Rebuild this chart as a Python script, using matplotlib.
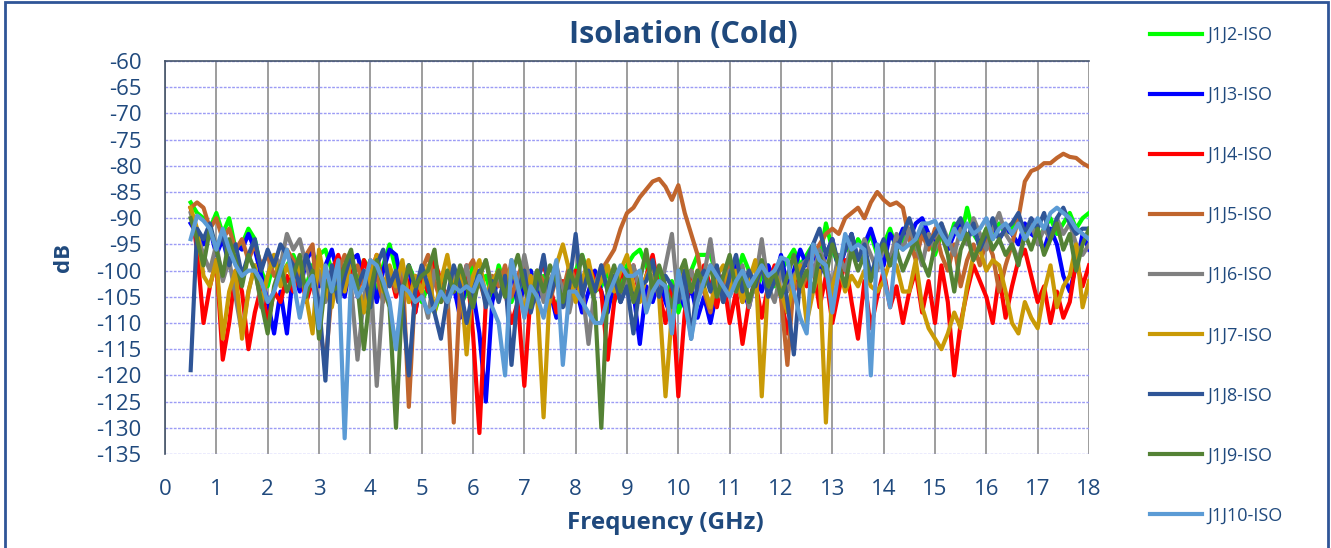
import numpy as np
import matplotlib
matplotlib.use("Agg")
import matplotlib.pyplot as plt
from matplotlib.patches import Rectangle

plt.rcParams['font.family'] = ['Open Sans', 'DejaVu Sans']
plt.rcParams['axes.unicode_minus'] = False

# frequency points (GHz), 0.125 GHz step from 0.5 to 18
freq = np.arange(141) * 0.125 + 0.5

# isolation readings in dB, one list per port pair (rows of 2 GHz)
j1j2 = [-87, -89, -90, -92, -89, -93, -90, -96, -95, -92, -94, -100, -103, -98, -101, -99,
        -97, -100, -103, -99, -97, -96, -100, -98, -101, -99, -102, -98, -100, -104, -99, -95,
        -100, -104, -99, -102, -106, -103, -108, -104, -100, -103, -107, -104, -99, -103, -101, -105,
        -99, -103, -106, -102, -104, -100, -105, -101, -104, -107, -103, -101, -100, -97, -101, -104,
        -103, -100, -106, -102, -99, -97, -96, -99, -103, -100, -105, -102, -108, -104, -100, -97,
        -97, -97, -101, -104, -99, -102, -97, -100, -104, -101, -99, -103, -100, -98, -96, -99,
        -97, -95, -98, -91, -96, -99, -95, -97, -94, -96, -93, -97, -95, -92, -96, -94,
        -93, -96, -92, -94, -97, -93, -95, -91, -94, -88, -93, -95, -92, -94, -91, -93,
        -92, -90, -93, -91, -94, -92, -90, -93, -91, -89, -92, -90, -89]

j1j3 = [-91, -93, -95, -92, -97, -94, -99, -95, -96, -93, -96, -101, -106, -112, -104, -112,
        -100, -104, -98, -96, -103, -99, -96, -101, -105, -98, -97, -102, -99, -106, -100, -96,
        -97, -103, -99, -108, -101, -104, -99, -102, -106, -103, -109, -101, -104, -112, -125, -106,
        -101, -104, -99, -107, -103, -100, -106, -102, -104, -109, -105, -101, -103, -108, -104, -100,
        -104, -108, -102, -106, -100, -104, -114, -103, -106, -102, -106, -109, -104, -107, -103, -109,
        -105, -110, -104, -101, -104, -99, -103, -107, -101, -104, -99, -102, -97, -103, -100, -96,
        -99, -95, -101, -97, -94, -100, -96, -93, -98, -95, -92, -96, -99, -93, -95, -92,
        -94, -91, -90, -93, -95, -92, -96, -93, -91, -94, -92, -95, -93, -91, -94, -92,
        -93, -95, -91, -93, -94, -96, -92, -95, -101, -104, -99, -93, -96]

j1j4 = [-88, -96, -110, -103, -98, -117, -110, -100, -104, -115, -108, -103, -110, -104, -106, -101,
        -104, -99, -106, -102, -109, -103, -100, -97, -102, -99, -105, -98, -101, -97, -103, -100,
        -105, -99, -103, -108, -101, -104, -98, -102, -106, -100, -104, -99, -112, -131, -106, -103,
        -100, -104, -110, -106, -122, -104, -101, -99, -103, -108, -102, -105, -100, -104, -99, -102,
        -104, -117, -106, -100, -103, -99, -105, -101, -97, -104, -110, -103, -124, -108, -100, -104,
        -99, -103, -107, -101, -110, -104, -114, -106, -102, -109, -103, -99, -105, -112, -104, -100,
        -103, -99, -107, -101, -110, -104, -98, -106, -113, -102, -111, -105, -100, -107, -103, -110,
        -104, -100, -108, -102, -110, -99, -106, -120, -110, -104, -99, -102, -105, -110, -101, -109,
        -103, -98, -96, -101, -106, -103, -110, -104, -109, -106, -98, -103, -99]

j1j5 = [-88, -87, -88, -92, -90, -94, -92, -96, -94, -98, -95, -99, -97, -101, -99, -96,
        -98, -101, -97, -95, -110, -118, -104, -100, -97, -102, -99, -103, -98, -101, -106, -100,
        -104, -99, -126, -103, -100, -97, -102, -106, -104, -129, -103, -100, -98, -102, -106, -101,
        -103, -99, -105, -101, -98, -104, -100, -102, -106, -101, -104, -99, -102, -105, -100, -103,
        -100, -98, -96, -92, -89, -88, -86, -84.5, -83, -82.5, -84, -86.5, -83.7, -89, -93, -97,
        -104, -108, -100, -103, -98, -102, -106, -100, -104, -99, -103, -101, -105, -118, -102, -104,
        -101, -97, -95, -93, -92, -93, -90, -89, -88, -90, -87, -85, -86.5, -87.5, -87, -88,
        -94, -98, -93, -96, -92, -97, -100, -95, -103, -98, -95, -99, -94, -97, -104, -99,
        -95, -90, -83, -81, -80.5, -79.5, -79.5, -78.5, -77.7, -78.3, -78.5, -79.5, -80.2]

j1j6 = [-89, -93, -97, -100, -95, -102, -98, -105, -112, -104, -99, -107, -101, -97, -99, -93,
        -96, -94, -99, -103, -100, -106, -101, -104, -99, -103, -117, -105, -100, -122, -104, -100,
        -103, -99, -106, -101, -104, -109, -100, -103, -107, -101, -104, -99, -106, -101, -98, -103,
        -101, -105, -98, -104, -97, -103, -100, -106, -102, -99, -104, -108, -102, -103, -114, -103,
        -99, -104, -101, -106, -102, -99, -104, -107, -101, -105, -99, -93, -106, -103, -100, -104,
        -101, -94, -103, -106, -100, -104, -99, -107, -102, -94, -103, -106, -100, -104, -101, -99,
        -98, -101, -96, -99, -103, -97, -100, -95, -98, -94, -97, -100, -95, -98, -93, -96,
        -92, -95, -99, -93, -96, -91, -94, -97, -92, -95, -90, -93, -96, -92, -89, -93,
        -95, -98, -93, -91, -95, -92, -94, -90, -93, -91, -95, -97, -95]

j1j7 = [-88, -92, -101, -103, -98, -113, -104, -100, -113, -104, -99, -106, -101, -97, -103, -99,
        -102, -99, -105, -112, -96, -103, -107, -100, -104, -98, -102, -108, -101, -97, -104, -99,
        -103, -98, -106, -101, -104, -99, -108, -102, -97, -104, -100, -116, -101, -98, -105, -102,
        -100, -104, -99, -103, -108, -101, -105, -128, -103, -99, -95, -100, -106, -102, -98, -104,
        -102, -99, -104, -100, -97, -103, -106, -101, -99, -105, -124, -108, -102, -99, -104, -100,
        -103, -107, -101, -99, -104, -100, -106, -102, -98, -124, -102, -100, -104, -108, -102, -99,
        -110, -104, -100, -129, -103, -99, -104, -101, -103, -100, -103, -104, -102, -98, -99, -104,
        -104, -98, -107, -111, -113, -115, -112, -108, -111, -103, -97, -96, -100, -98, -99, -104,
        -110, -112, -106, -109, -111, -104, -99, -107, -103, -101, -95, -107, -102]

j1j8 = [-119, -92, -94, -91, -96, -93, -99, -95, -101, -97, -94, -100, -96, -99, -95, -97,
        -99, -103, -97, -101, -106, -121, -99, -106, -101, -97, -103, -100, -107, -99, -96, -103,
        -100, -106, -120, -104, -99, -103, -108, -113, -105, -99, -103, -110, -104, -100, -107, -102,
        -106, -101, -118, -104, -100, -108, -103, -97, -105, -101, -107, -103, -93, -105, -100, -104,
        -99, -104, -101, -106, -103, -112, -103, -102, -98, -105, -101, -103, -106, -100, -113, -102,
        -100, -104, -99, -106, -101, -97, -104, -100, -103, -99, -105, -102, -98, -106, -116, -101,
        -98, -95, -92, -97, -94, -99, -96, -93, -98, -95, -101, -97, -94, -99, -96, -93,
        -90, -94, -92, -95, -93, -91, -95, -92, -90, -94, -91, -96, -93, -90, -94, -92,
        -91, -89, -93, -90, -92, -89, -94, -90, -88, -91, -93, -92, -92]

j1j9 = [-90, -94, -99, -92, -96, -101, -94, -98, -103, -97, -100, -106, -112, -103, -99, -104,
        -101, -97, -105, -100, -113, -102, -104, -103, -99, -96, -103, -115, -104, -98, -103, -107,
        -130, -104, -99, -103, -101, -100, -96, -106, -100, -104, -99, -103, -107, -101, -98, -104,
        -100, -105, -101, -97, -103, -107, -100, -104, -99, -102, -106, -100, -103, -97, -102, -106,
        -130, -103, -99, -104, -100, -106, -102, -96, -104, -99, -103, -107, -101, -98, -104, -100,
        -103, -99, -105, -101, -97, -104, -100, -106, -102, -98, -103, -100, -105, -101, -97, -103,
        -100, -104, -97, -101, -95, -99, -103, -96, -100, -97, -102, -98, -95, -99, -96, -100,
        -97, -94, -98, -101, -95, -93, -97, -104, -96, -93, -98, -95, -92, -96, -94, -97,
        -95, -99, -93, -96, -92, -97, -94, -91, -96, -93, -100, -95, -92]

j1j10 = [-94, -89.5, -90.5, -92, -96, -92, -96, -99, -101, -100, -100, -102, -106, -104, -100, -96,
         -102, -109, -103, -101, -111, -99, -104, -98, -132, -101, -105, -103, -98, -99, -102, -106,
         -115, -103, -104, -106, -105, -108, -107, -104, -106, -103, -104, -103, -104, -101, -104, -107,
         -110, -120, -98, -103, -109, -103, -105, -109, -103, -98, -118, -104, -104, -106, -108, -110,
         -110, -105, -102, -99, -101, -101, -100, -108, -104, -102, -103, -112, -100, -106, -113, -106,
         -102, -99, -101, -103, -105, -102, -100, -103, -101, -99, -101, -100, -97.5, -98, -104, -109,
         -112, -95, -98, -99, -108, -100, -93, -96, -95, -96, -120, -95, -101, -107, -95, -96,
         -95, -94, -91, -91, -90.5, -93, -95, -92, -94, -91, -93, -92, -90, -94, -92, -91,
         -93, -91, -94, -92, -90, -92, -89, -88, -89, -90, -92, -93, -94]

labels = ["J1J2-ISO", "J1J3-ISO", "J1J4-ISO", "J1J5-ISO", "J1J6-ISO",
          "J1J7-ISO", "J1J8-ISO", "J1J9-ISO", "J1J10-ISO"]
colors = ["#00FF00", "#0000FF", "#FF0000", "#C0652D", "#808080",
          "#C99A06", "#2F5597", "#548235", "#5B9BD5"]
series = [j1j2, j1j3, j1j4, j1j5, j1j6, j1j7, j1j8, j1j9, j1j10]

txt = "#1F497D"

fig = plt.figure(figsize=(13.31, 5.48), dpi=100)
ax = fig.add_axes([165 / 1331, 1 - 454 / 548, 924 / 1331, 393 / 548])

for s, c, lab in zip(series, colors, labels):
    ax.plot(freq, s, color=c, lw=3.0, label=lab, solid_joinstyle="round")

ax.set_xlim(0, 18)
ax.set_ylim(-135, -60)
ax.set_xticks(range(0, 19))
ax.set_yticks(range(-135, -59, 5))
ax.grid(axis="x", color="#8C8C8C", lw=1.2)
ax.grid(axis="y", color="#9C9CF5", lw=1.0, ls=(0, (2, 1)))
ax.set_axisbelow(True)
ax.tick_params(length=0, labelsize=16, labelcolor=txt)
ax.tick_params(axis="x", pad=18)
ax.tick_params(axis="y", pad=17)
for k in ["bottom", "right"]:
    ax.spines[k].set_visible(False)
for k in ["left", "top"]:
    ax.spines[k].set_color("#44546A")
    ax.spines[k].set_linewidth(1.2)

ax.set_ylabel("dB", fontsize=16, fontweight="bold", color=txt, labelpad=16)
fig.text(665 / 1331, 1 - 523 / 548, "Frequency (GHz)", ha="center", va="center",
         fontsize=17.5, fontweight="bold", color=txt)
fig.text(683 / 1331, 1 - 35 / 548, "Isolation (Cold)", ha="center", va="center",
         fontsize=22, fontweight="bold", color=txt)

h, l = ax.get_legend_handles_labels()
fig.legend(h, l, loc="upper left", bbox_to_anchor=(1150 / 1331, 1 - 26 / 548),
           frameon=False, fontsize=13, labelcolor=txt, handlelength=2.9,
           handletextpad=0.25, labelspacing=2.33, borderpad=0, borderaxespad=0)

fig.add_artist(Rectangle((5 / 1331, -0.02), 1323 / 1331, 1.02 - 2 / 548,
                         transform=fig.transFigure, fill=False,
                         edgecolor="#2F5597", lw=2))

fig.savefig("out.png", dpi=100)
